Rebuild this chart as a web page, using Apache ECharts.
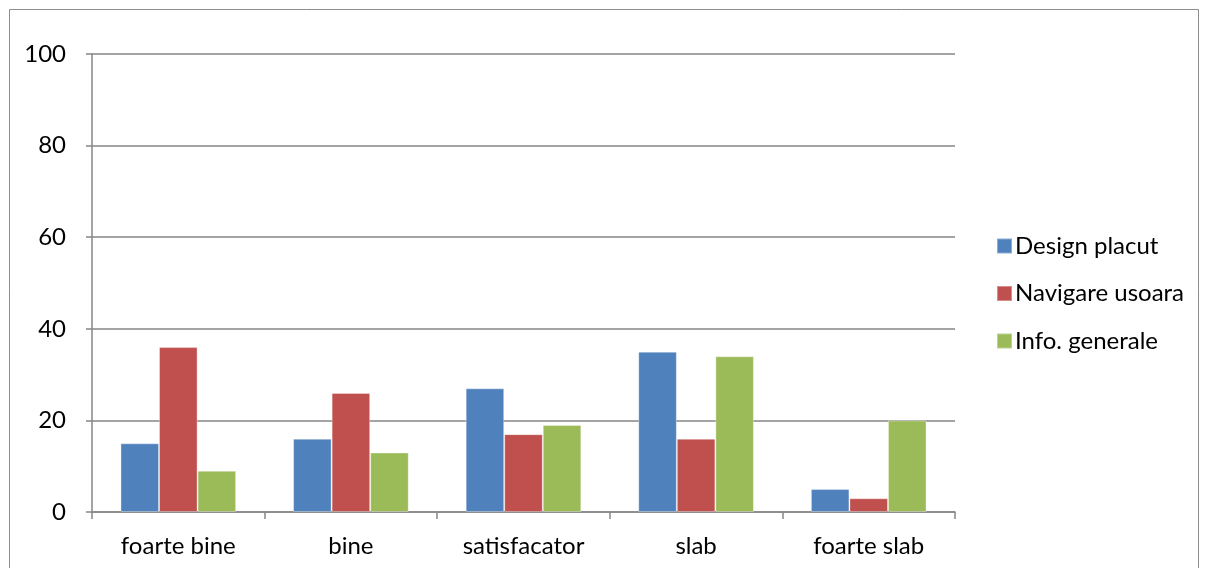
<!DOCTYPE html>
<html>
<head>
<meta charset="utf-8">
<script src="https://cdn.jsdelivr.net/npm/echarts@6/dist/echarts.min.js"></script>
<style>
  html, body { margin: 0; padding: 0; background: #fff; }
  #chart { width: 1208px; height: 568px; }
</style>
</head>
<body>
<div id="chart"></div>
<script>
// Rating categories along the x axis
const categories = ['foarte bine', 'bine', 'satisfacator', 'slab', 'foarte slab'];

// Series values
const designPlacut = [15, 16, 27, 35, 5];
const navigareUsoara = [36, 26, 17, 16, 3];
const infoGenerale = [9, 13, 19, 34, 20];

const seriesNames = ['Design placut', 'Navigare usoara', 'Info. generale'];
const seriesColors = ['#4F81BD', '#C0504D', '#9BBB59'];
const seriesData = [designPlacut, navigareUsoara, infoGenerale];

const fontFamily = 'Lato, "Open Sans", sans-serif';
const axisGray = '#868686';

const chart = echarts.init(document.getElementById('chart'), null, { renderer: 'canvas' });

chart.setOption({
  animation: false,
  backgroundColor: '#fff',
  graphic: [{
    type: 'rect',
    shape: { x: 9.5, y: 9.5, width: 1189, height: 600 },
    style: { fill: 'none', stroke: '#8c8c8c', lineWidth: 1 },
    silent: true
  }],
  legend: {
    orient: 'vertical',
    left: 996,
    top: 234,
    padding: 0,
    itemWidth: 15,
    itemHeight: 15,
    itemGap: 23.5,
    icon: 'rect',
    textStyle: { fontFamily, fontSize: 24, color: '#000', padding: [0, 0, 0, -2] },
    data: seriesNames
  },
  grid: { left: 92, right: 253, top: 54, bottom: 56, containLabel: false },
  xAxis: {
    type: 'category',
    data: categories,
    axisLine: { lineStyle: { color: axisGray, width: 1.5 } },
    axisTick: { show: true, length: 7, alignWithLabel: false, lineStyle: { color: axisGray, width: 1.5 } },
    axisLabel: { fontFamily, fontSize: 24, color: '#000', margin: 22 }
  },
  yAxis: {
    type: 'value',
    min: 0,
    max: 100,
    interval: 20,
    axisLine: { show: true, lineStyle: { color: axisGray, width: 1.5 } },
    axisTick: { show: true, length: 6, lineStyle: { color: axisGray, width: 1.5 } },
    splitLine: { lineStyle: { color: axisGray, width: 1.5 } },
    axisLabel: { fontFamily, fontSize: 24, color: '#000', margin: 26 }
  },
  series: seriesNames.map((name, i) => ({
    name,
    type: 'bar',
    data: seriesData[i],
    barGap: '0%',
    barCategoryGap: '33%',
    itemStyle: { color: seriesColors[i], borderColor: 'rgba(255,255,255,0.35)', borderWidth: 1 }
  }))
});
</script>
</body>
</html>
